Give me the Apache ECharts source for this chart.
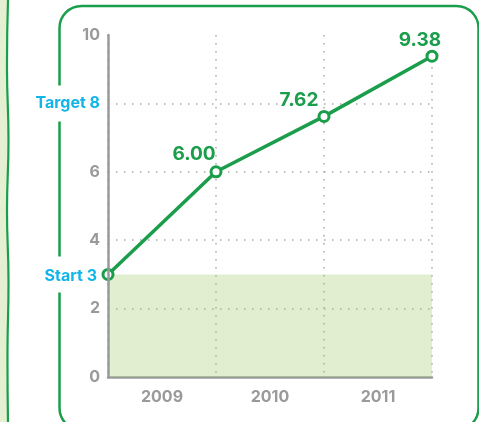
<!DOCTYPE html>
<html>
<head>
<meta charset="utf-8">
<script src="https://cdn.jsdelivr.net/npm/echarts@6/dist/echarts.min.js"></script>
<style>
  html, body { margin: 0; padding: 0; background: #ffffff; }
  #chart { width: 479px; height: 422px; }
</style>
</head>
<body>
<div id="chart"></div>
<script>
// Yearly progress from a starting level towards a target
const years = ['2009', '2010', '2011'];
const progress = [3, 6.00, 7.62, 9.38];   // value at each year boundary
const startValue = 3;
const targetValue = 8;
const yTickLabels = [0, 2, 4, 6, 10];

const GREEN = '#1b9e4b';
const GREY = '#9a9a9c';
const BLUE = '#12b5e8';
const FONT = 'Inter, "Noto Sans", sans-serif';

// per-point label nudges (value labels sit up and to the left of each point)
const labelNudge = [[0, 0], [-22, 2], [-25, 4], [-12, 4]];

const chart = echarts.init(document.getElementById('chart'), null, { renderer: 'canvas' });

chart.setOption({
  animation: false,
  backgroundColor: '#ffffff',
  textStyle: { fontFamily: FONT },
  grid: { left: 108, right: 47, top: 35, bottom: 45, containLabel: false },
  graphic: [
    { type: 'rect', z: -20, shape: { x: 0, y: 0, width: 8, height: 422 }, style: { fill: '#e5efd2' } },
    {
      type: 'polyline', z: -19,
      shape: { points: [[8, 0], [7, 70], [8.5, 140], [7, 210], [8.5, 280], [7.5, 350], [8, 422]], smooth: 0.5 },
      style: { stroke: GREEN, lineWidth: 2.2, fill: null }
    },
    {
      type: 'rect', z: -18,
      shape: { x: 59.5, y: 6, width: 419, height: 424, r: 22 },
      style: { stroke: GREEN, lineWidth: 2.5, fill: null }
    }
  ],
  xAxis: [
    {
      type: 'category',
      data: years,
      boundaryGap: true,
      axisLine: { lineStyle: { color: GREY, width: 2.5 } },
      axisTick: { show: false },
      axisLabel: { color: GREY, fontWeight: 'bold', fontSize: 16, margin: 12, fontFamily: FONT },
      splitLine: { show: true, lineStyle: { color: '#ababab', type: [1.5, 6.5], width: 1.5 } }
    },
    { type: 'value', min: 0, max: 3, show: false }
  ],
  yAxis: [
    {
      type: 'value', min: 0, max: 10, interval: 1, z: 10,
      axisLine: { show: true, lineStyle: { color: GREY, width: 2.5 } },
      axisTick: { show: false },
      splitLine: { show: false },
      axisLabel: {
        margin: 8,
        color: GREY, fontWeight: 'bold', fontSize: 16, fontFamily: FONT,
        formatter: function (v) {
          if (v === startValue) return '{st|Start ' + v + '}';
          if (v === targetValue) return '{hl|Target ' + v + '}';
          return yTickLabels.indexOf(v) >= 0 ? String(v) : '';
        },
        rich: {
          hl: {
            color: BLUE, fontWeight: 'bold', fontSize: 16, fontFamily: FONT,
            backgroundColor: '#ffffff', padding: [10, 0, 10, 4]
          },
          st: {
            color: BLUE, fontWeight: 'bold', fontSize: 16, fontFamily: FONT,
            backgroundColor: '#ffffff', padding: [12, 3, 8, 4]
          }
        }
      }
    },
    {
      type: 'value', min: 0, max: 10, interval: 2,
      axisLine: { show: false }, axisTick: { show: false }, axisLabel: { show: false },
      splitLine: { show: true, showMaxLine: false, showMinLine: false, lineStyle: { color: '#ababab', type: [1.5, 6.5], width: 1.5 } }
    }
  ],
  series: [
    {
      type: 'line',
      xAxisIndex: 1,
      yAxisIndex: 0,
      data: progress.map(function (v, i) {
        return {
          value: [i, v],
          label: { show: i > 0, offset: labelNudge[i] }
        };
      }),
      lineStyle: { color: GREEN, width: 3.5 },
      itemStyle: { color: '#ffffff', borderColor: GREEN, borderWidth: 3 },
      symbol: 'circle',
      symbolSize: 10,
      z: 5,
      label: {
        position: 'top',
        distance: 4,
        color: GREEN,
        fontWeight: 'bold',
        fontSize: 19,
        fontFamily: FONT,
        formatter: function (p) { return p.value[1].toFixed(2); }
      },
      markArea: {
        silent: true,
        itemStyle: { color: 'rgba(160,198,98,0.3)' },
        data: [[{ yAxis: 0 }, { yAxis: startValue }]]
      }
    }
  ]
});
</script>
</body>
</html>
